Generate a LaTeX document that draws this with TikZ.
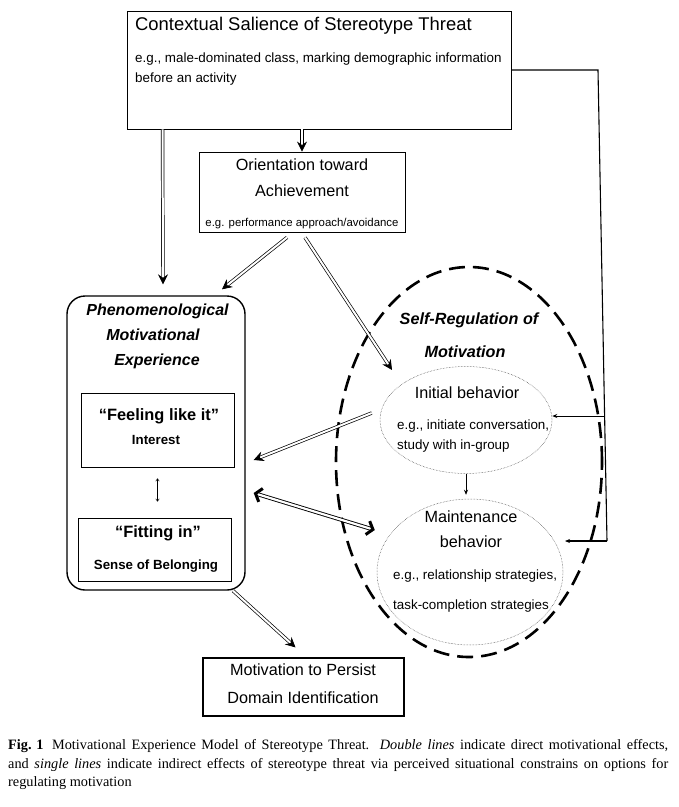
\documentclass[tikz,border=0pt]{standalone}
\usepackage{fontspec}
\setmainfont{Liberation Sans}
\newfontfamily\capfont{Liberation Serif}
\usetikzlibrary{arrows.meta,shapes.geometric,calc}
\newcommand{\myfs}[1]{\fontsize{#1}{#1}\selectfont}
\begin{document}
\begin{tikzpicture}[x=1pt,y=-1pt,
  boxnode/.style={draw, line width=0.9pt, inner sep=0pt, rectangle},
  txt/.style={inner sep=0pt, anchor=mid, font=\myfs{16.2}},
  small/.style={inner sep=0pt, anchor=mid west, font=\myfs{13.4}},
  bititle/.style={inner sep=0pt, anchor=mid, font=\bfseries\itshape\myfs{16}},
  btxt/.style={inner sep=0pt, anchor=mid, font=\bfseries\myfs{16.4}},
  bsmall/.style={inner sep=0pt, anchor=mid, font=\bfseries\myfs{13.3}},
  dbl/.style={double, double distance=2pt, line width=0.7pt, -{Stealth[length=10pt,width=10pt,inset=3.5pt]}},
  dblline/.style={double, double distance=2.2pt, line width=0.9pt},
  barbtip/.style={line width=0.9pt, {Straight Barb[length=5.5pt,width=14pt,line width=3pt]}-},
  thinarrow/.style={line width=0.6pt, -{Stealth[length=5pt,width=4pt]}},
  dotell/.style={ellipse, draw=black!75, densely dotted, line width=0.5pt, inner sep=0pt},
  capline/.style={inner sep=0pt, anchor=base west, font=\capfont\myfs{14.3}}
]
\fill[white] (0,0) rectangle (679,807);
\useasboundingbox (0,0) rectangle (679,807);

% top box
\node[boxnode, minimum width=384pt, minimum height=118pt] (top) at (319,70) {};
\node[txt, anchor=mid west, font=\myfs{18.4}] (topt) at (135,28) {Contextual Salience of Stereotype Threat};
\node[small] (tops1) at (135,60) {e.g., male-dominated class, marking demographic information};
\node[small] (tops2) at (135,80) {before an activity};

% orientation box
\node[boxnode, minimum width=206pt, minimum height=80pt] (orient) at (302,192) {};
\node[txt] (or1) at (302,168) {Orientation toward};
\node[txt] (or2) at (302,194) {Achievement};
\node[txt, font=\myfs{11.4}] (or3) at (302,224) {e.g. performance approach/avoidance};

% phenomenological box
\node[draw, line width=1.4pt, rounded corners=18pt, minimum width=178pt, minimum height=294pt, inner sep=0pt] (phen) at (156,443) {};
\node[bititle] (ph1) at (157.5,313) {Phenomenological};
\node[bititle] (ph2) at (153,338) {Motivational};
\node[bititle] (ph3) at (157,363) {Experience};
\node[boxnode, minimum width=153pt, minimum height=74pt] (feel) at (157.5,430) {};
\node[btxt] (feel1) at (159,418) {“Feeling like it”};
\node[bsmall] (feel2) at (156,442) {Interest};
\node[boxnode, minimum width=153pt, minimum height=63pt] (fit) at (154.5,549.5) {};
\node[btxt] (fit1) at (158,535) {“Fitting in”};
\node[bsmall] (fit2) at (156,567) {Sense of Belonging};
\draw[line width=0.5pt, {To[length=3pt,width=4pt]}-{To[length=3pt,width=4pt]}, shorten <=11pt, shorten >=16pt] (feel.south) -- (feel.south |- fit.north);

% self-regulation
\node[ellipse, draw, line width=2.6pt, dash pattern=on 16pt off 8pt, minimum width=266pt, minimum height=390pt, inner sep=0pt] (selfreg) at (469,462) {};
\node[bititle, font=\bfseries\itshape\myfs{16.2}] (sr1) at (469,322) {Self-Regulation of};
\node[bititle, font=\bfseries\itshape\myfs{16.2}] (sr2) at (465,355) {Motivation};

\node[dotell, minimum width=172pt, minimum height=107pt] (init) at (466,420) {};
\node[txt] (in1) at (467,396) {Initial behavior};
\node[small] (in2) at (397,427) {e.g., initiate conversation,};
\node[small] (in3) at (397,447) {study with in-group};

\node[dotell, minimum width=186pt, minimum height=146pt] (maint) at (470,572) {};
\node[txt] (ma1) at (471,520) {Maintenance};
\node[txt] (ma2) at (471,545) {behavior};
\node[small] (ma3) at (393,577) {e.g., relationship strategies,};
\node[small] (ma4) at (393,607) {task-completion strategies};

% bottom box
\node[boxnode, line width=1.2pt, minimum width=201pt, minimum height=58pt] (persist) at (303.5,687) {};
\node[txt] (pe1) at (303,673) {Motivation to Persist};
\node[txt] (pe2) at (303,701) {Domain Identification};

% double arrows
\draw[dbl] (top.south -| orient.north) -- (orient.north);
\draw[dbl] ([xshift=36pt]top.south west) -- ([xshift=7pt,yshift=11pt]phen.north);
\draw[dbl] ([xshift=-15pt,yshift=-5pt]orient.south) -- ([xshift=66pt,yshift=6pt]phen.north);
\draw[dbl] ([xshift=3pt,yshift=-5pt]orient.south) -- ([xshift=-13pt,yshift=12pt]init.north west);
\draw[dbl] ([xshift=-8pt,yshift=7pt]init.west) -- ([xshift=8pt,yshift=-17pt]phen.east);
\draw[dbl] ([xshift=77pt]phen.south) -- ([xshift=-8pt,yshift=10pt]persist.north);

% heavy two-way double arrow between phen and maintenance
\coordinate (bA) at ([xshift=8pt,yshift=-50pt]phen.east);
\coordinate (bB) at ([xshift=-2pt,yshift=42pt]maint.west);
\draw[dblline] ($(bA)!2pt!(bB)$) -- ($(bB)!2pt!(bA)$);
\draw[barbtip] (bA) -- ($(bA)!0.6pt!(bB)$);
\draw[barbtip] (bB) -- ($(bB)!0.6pt!(bA)$);

% single lines
\draw[thinarrow, shorten >=4pt] (init.south) -- (init.south |- maint.north);
\coordinate (c1) at (598,70);
\coordinate (c2) at (607,541);
\coordinate (cb) at (604.6,416);
\draw[line width=1.1pt] (top.east) -- (c1) -- (c2);
\draw[thinarrow, line width=1.1pt] (c2) -- (565,541) coordinate (mend);
\draw[thinarrow, line width=0.9pt] (cb) -- (init.east |- cb);

% caption
\node[capline] (cap1) at (8,749) {\makebox[660pt][s]{\mbox{\textbf{Fig. 1}}\hspace{0.6em}Motivational Experience Model of Stereotype Threat. \textit{Double lines} indicate direct motivational effects,}};
\node[capline] (cap2) at (8,768) {\makebox[660pt][s]{and \textit{single lines} indicate indirect effects of stereotype threat via perceived situational constrains on options for}};
\node[capline] (cap3) at (8,786.5) {regulating motivation};
\end{tikzpicture}
\end{document}
